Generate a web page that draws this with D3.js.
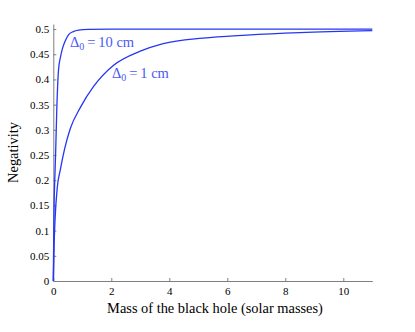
<!DOCTYPE html>
<html>
<head>
<meta charset="utf-8">
<script src="https://cdn.jsdelivr.net/npm/d3@7"></script>
<style>
body { margin: 0; background: #fff; }
text { font-family: "Liberation Serif", "DejaVu Serif", serif; }
</style>
</head>
<body>
<script>
// values (mass in solar masses, negativity)
var mass10 = [0, 0.01, 0.02, 0.05, 0.08, 0.12, 0.18, 0.25, 0.32, 0.4, 0.53, 0.69, 0.87, 1.2, 2.0, 4, 6, 8, 11];
var neg10 = [0, 0.06, 0.121, 0.2, 0.253, 0.34, 0.419, 0.445, 0.462, 0.475, 0.489, 0.495, 0.498, 0.4995, 0.5, 0.5, 0.5, 0.5, 0.5];

var mass1 = [0, 0.02, 0.06, 0.14, 0.24, 0.39, 0.59, 0.93, 1.39, 2.08, 3.0, 3.79, 5.16, 6.67, 8.5, 11];
var neg1 = [0, 0.056, 0.121, 0.187, 0.22, 0.262, 0.303, 0.344, 0.386, 0.428, 0.456, 0.471, 0.482, 0.488, 0.493, 0.497];

var xTicks = [0, 2, 4, 6, 8, 10];
var yTicks = [0, 0.05, 0.1, 0.15, 0.2, 0.25, 0.3, 0.35, 0.4, 0.45, 0.5];

var width = 415, height = 332;
var margin = {left: 53.3, right: 42.7, top: 24, bottom: 51};
var lineColor = "#2536f5";
var axisColor = "#7f7f7f";

var svg = d3.select("body").append("svg")
  .attr("width", width)
  .attr("height", height);

var x = d3.scaleLinear()
  .domain([0, 11])
  .range([margin.left, width - margin.right]);

var y = d3.scaleLinear()
  .domain([0, 0.51])
  .range([height - margin.bottom, margin.top]);

// axes, ticks pointing inward like matlab
var xAxis = svg.append("g")
  .attr("transform", "translate(0," + y(0) + ")")
  .call(d3.axisBottom(x).tickValues(xTicks).tickSize(-3).tickPadding(5).tickSizeOuter(0).tickFormat(d3.format("d")));

var yAxis = svg.append("g")
  .attr("transform", "translate(" + x(0) + ",0)")
  .call(d3.axisLeft(y).tickValues(yTicks).tickSize(-3).tickPadding(4).tickSizeOuter(0).tickFormat(function(d){ return d3.format("")(d); }));

[xAxis, yAxis].forEach(function(g) {
  g.select(".domain").attr("stroke", axisColor);
  g.selectAll(".tick line").attr("stroke", axisColor);
  g.selectAll(".tick text").attr("fill", "#000").style("font-size", "11px")
    .style("font-family", "'Liberation Serif', serif");
});
xAxis.selectAll(".tick text").attr("dy", "0.85em");

var line = d3.line()
  .x(function(d) { return x(d[0]); })
  .y(function(d) { return y(d[1]); })
  .curve(d3.curveMonotoneX);

svg.append("path")
  .datum(d3.zip(mass1, neg1))
  .attr("d", line)
  .attr("fill", "none")
  .attr("stroke", lineColor)
  .attr("stroke-width", 1.3);

svg.append("path")
  .datum(d3.zip(mass10, neg10))
  .attr("d", line)
  .attr("fill", "none")
  .attr("stroke", lineColor)
  .attr("stroke-width", 1.3);

// curve labels
function label(px, py, rest) {
  var t = svg.append("text")
    .attr("x", px)
    .attr("y", py)
    .attr("fill", "#4a5af5")
    .style("font-size", "14.5px");
  t.append("tspan").text("Δ");
  t.append("tspan").attr("dy", 3).style("font-size", "10px").text("0");
  t.append("tspan").attr("dy", -3).text("\u2009=\u2009" + rest + " cm");
}
label(70, 47, "10");
label(112, 78, "1");

// axis titles
svg.append("text")
  .attr("x", 215)
  .attr("y", 313)
  .attr("text-anchor", "middle")
  .style("font-size", "14.4px")
  .text("Mass of the black hole (solar masses)");

svg.append("text")
  .attr("transform", "translate(18," + ((y(0) + y(0.51)) / 2) + ") rotate(-90)")
  .attr("text-anchor", "middle")
  .style("font-size", "14.4px")
  .text("Negativity");
</script>
</body>
</html>
